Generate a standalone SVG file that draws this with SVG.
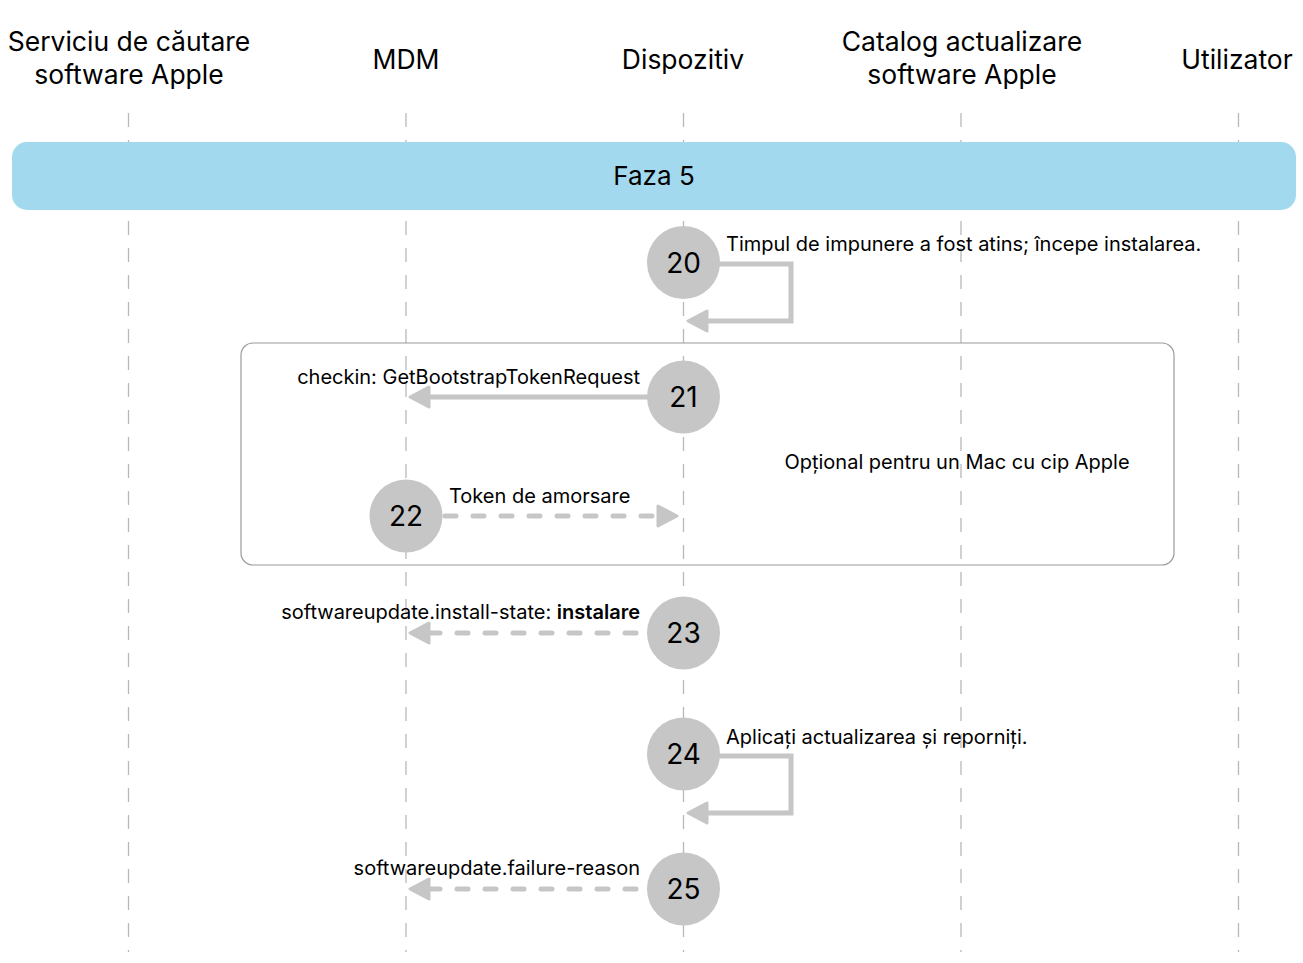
<svg xmlns="http://www.w3.org/2000/svg" width="1303" height="963" viewBox="0 0 1303 963">
<style>
.hdr{font-family:Inter,"Noto Sans","Liberation Sans",sans-serif;font-size:26.5px;fill:#000;text-anchor:middle}
.ph{font-family:Inter,"Noto Sans","Liberation Sans",sans-serif;font-size:26px;fill:#000;text-anchor:middle}
.lbl{font-family:Inter,"Noto Sans","Liberation Sans",sans-serif;font-size:20px;fill:#000}
.num{font-family:Inter,"Noto Sans","Liberation Sans",sans-serif;font-size:28px;fill:#000;text-anchor:middle}
.life{stroke:#b8b8b8;stroke-width:1.3;stroke-dasharray:14 13;fill:none}
.circ{fill:#c6c6c6}
.arr{stroke:#c6c6c6;stroke-width:5;fill:none}
.dash{stroke-dasharray:11 17;stroke-linecap:round}
.head{fill:#c6c6c6;stroke:#c6c6c6;stroke-width:3;stroke-linejoin:round}
</style>
<rect width="1303" height="963" fill="#fff"/>
<g id="headers">
<text class="hdr" x="129" y="51">Serviciu de căutare</text>
<text class="hdr" x="129" y="84">software Apple</text>
<text class="hdr" x="406" y="69">MDM</text>
<text class="hdr" x="683" y="69">Dispozitiv</text>
<text class="hdr" x="962" y="51">Catalog actualizare</text>
<text class="hdr" x="962" y="84">software Apple</text>
<text class="hdr" x="1237" y="69">Utilizator</text>
</g>
<g id="lifelines">
<line class="life" x1="128.5" y1="113" x2="128.5" y2="952"/>
<line class="life" x1="406" y1="113" x2="406" y2="952"/>
<line class="life" x1="683.5" y1="113" x2="683.5" y2="952"/>
<line class="life" x1="961" y1="113" x2="961" y2="952"/>
<line class="life" x1="1238.5" y1="113" x2="1238.5" y2="952"/>
</g>
<g id="phase">
<rect x="12" y="142" width="1284" height="68" rx="15" fill="#a3d9ef"/>
<text class="ph" x="654" y="185">Faza 5</text>
</g>
<g id="optional">
<rect x="241" y="343" width="933" height="222" rx="12" fill="none" stroke="#9a9a9a" stroke-width="1.2"/>
<text class="lbl" x="957" y="469" text-anchor="middle">Opțional pentru un Mac cu cip Apple</text>
</g>
<g id="connectors">
<polyline class="arr" points="718,264 791,264 791,321 705,321"/>
<polygon class="head" points="688,321 707,311 707,331"/>
<line class="arr" x1="648" y1="397" x2="426" y2="397"/>
<polygon class="head" points="410,397 429,387 429,407"/>
<line class="arr dash" x1="445" y1="516" x2="658" y2="516"/>
<polygon class="head" points="677,516 658,506 658,526"/>
<line class="arr dash" x1="636" y1="633" x2="426" y2="633"/>
<polygon class="head" points="410,633 429,623 429,643"/>
<polyline class="arr" points="718,756 791,756 791,813 705,813"/>
<polygon class="head" points="688,813 707,803 707,823"/>
<line class="arr dash" x1="636" y1="889" x2="426" y2="889"/>
<polygon class="head" points="410,889 429,879 429,899"/>
</g>
<g id="labels">
<text class="lbl" x="726" y="251">Timpul de impunere a fost atins; începe instalarea.</text>
<text class="lbl" x="640" y="384" text-anchor="end">checkin: GetBootstrapTokenRequest</text>
<text class="lbl" x="449" y="503">Token de amorsare</text>
<text class="lbl" x="640" y="619" text-anchor="end">softwareupdate.install-state: <tspan font-weight="600">instalare</tspan></text>
<text class="lbl" x="726" y="744">Aplicați actualizarea și reporniți.</text>
<text class="lbl" x="640" y="875" text-anchor="end">softwareupdate.failure-reason</text>
</g>
<g id="n20"><circle class="circ" cx="683.5" cy="262.5" r="36.5"/><text class="num" x="683.5" y="272.5">20</text></g>
<g id="n21"><circle class="circ" cx="683.5" cy="397" r="36.5"/><text class="num" x="683.5" y="407">21</text></g>
<g id="n22"><circle class="circ" cx="406" cy="516" r="36.5"/><text class="num" x="406" y="526">22</text></g>
<g id="n23"><circle class="circ" cx="683.5" cy="633" r="36.5"/><text class="num" x="683.5" y="643">23</text></g>
<g id="n24"><circle class="circ" cx="683.5" cy="754" r="36.5"/><text class="num" x="683.5" y="764">24</text></g>
<g id="n25"><circle class="circ" cx="683.5" cy="889" r="36.5"/><text class="num" x="683.5" y="899">25</text></g>
</svg>
